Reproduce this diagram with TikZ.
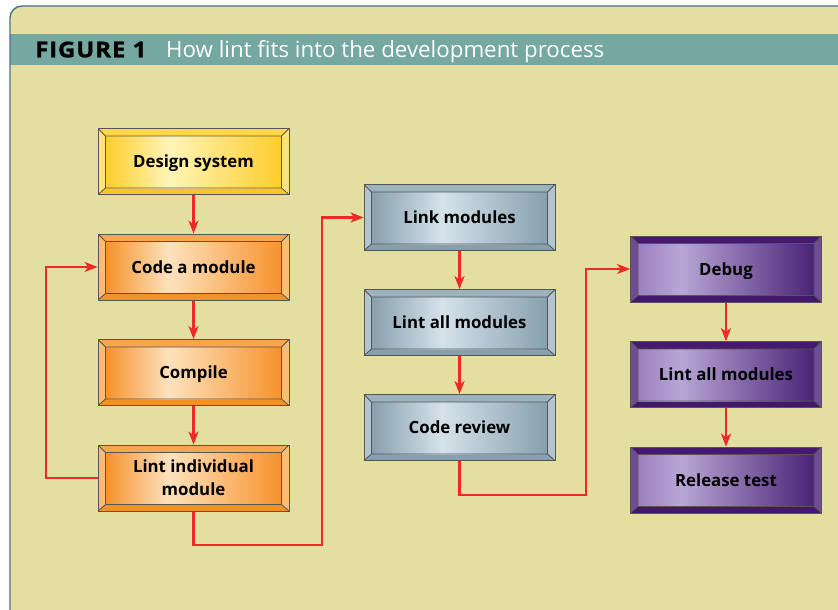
\documentclass[tikz,border=0pt]{standalone}
\usepackage{fontspec}
\setmainfont{Open Sans}
\usetikzlibrary{arrows.meta,calc}

% frame and band colours
\definecolor{pagebg}{HTML}{E3DFA0}
\definecolor{bandc}{HTML}{74A8A0}
\definecolor{framec}{HTML}{4E6E8E}
\definecolor{edgec}{HTML}{555555}
\definecolor{flowc}{HTML}{EE2A24}

% yellow box
\definecolor{yA}{HTML}{FFCD2C}\definecolor{yB}{HTML}{FFF5B8}
\definecolor{yTop}{HTML}{FFD64C}\definecolor{yBot}{HTML}{FCC724}\definecolor{ySide}{HTML}{FFE27C}
% orange boxes
\definecolor{oA}{HTML}{F6922D}\definecolor{oB}{HTML}{FDE2BD}
\definecolor{oTop}{HTML}{F8A64E}\definecolor{oBot}{HTML}{F39224}\definecolor{oSide}{HTML}{FBBC76}
% grey-blue boxes
\definecolor{gA}{HTML}{87A0AD}\definecolor{gB}{HTML}{D5E2EA}
\definecolor{gTop}{HTML}{9CB2BD}\definecolor{gBot}{HTML}{88A0AD}\definecolor{gSide}{HTML}{B2C4CD}
% purple boxes
\definecolor{pL}{HTML}{9A81BE}\definecolor{pB}{HTML}{B9A6D5}\definecolor{pR}{HTML}{4A2376}
\definecolor{pTop}{HTML}{46196F}\definecolor{pBot}{HTML}{43176B}\definecolor{pSide}{HTML}{6E4D96}

% face shadings (the 25bp--75bp band is mapped onto the face)
\pgfdeclarehorizontalshading{yface}{100bp}{color(0bp)=(yA); color(25bp)=(yA); color(43bp)=(yB); color(75bp)=(yA); color(100bp)=(yA)}
\pgfdeclarehorizontalshading{oface}{100bp}{color(0bp)=(oA); color(25bp)=(oA); color(43bp)=(oB); color(75bp)=(oA); color(100bp)=(oA)}
\pgfdeclarehorizontalshading{gface}{100bp}{color(0bp)=(gA); color(25bp)=(gA); color(45bp)=(gB); color(75bp)=(gA); color(100bp)=(gA)}
\pgfdeclarehorizontalshading{pface}{100bp}{color(0bp)=(pL); color(25bp)=(pL); color(37bp)=(pB); color(75bp)=(pR); color(100bp)=(pR)}

\pgfdeclarelayer{wires}
\pgfsetlayers{wires,main}

\tikzset{
  bevelbox/.style n args={4}{
    rectangle, minimum width=191pt, minimum height=66pt, inner sep=0pt,
    align=center, font=\fontsize{16.8}{22.3}\selectfont\bfseries, text=black,
    text height=12pt, text depth=0pt,
    draw=edgec, line width=0.8pt,
    path picture={
      \path (path picture bounding box.north west) coordinate (o1)
            (path picture bounding box.north east) coordinate (o2)
            (path picture bounding box.south east) coordinate (o3)
            (path picture bounding box.south west) coordinate (o4);
      \path ([shift={(7.5pt,-7.5pt)}]o1) coordinate (i1)
            ([shift={(-7.5pt,-7.5pt)}]o2) coordinate (i2)
            ([shift={(-7.5pt,6.5pt)}]o3) coordinate (i3)
            ([shift={(7.5pt,6.5pt)}]o4) coordinate (i4);
      \fill[#3] (o1) rectangle (o3);
      \fill[#1] (o1) -- (o2) -- (i2) -- (i1) -- cycle;
      \fill[#2] (o4) -- (o3) -- (i3) -- (i4) -- cycle;
      \shade[shading=#4] (i1) rectangle (i3);
      \draw[edgec, line width=0.8pt] (i1) rectangle (i3)
            (o1) -- (i1) (o2) -- (i2) (o3) -- (i3) (o4) -- (i4);
    }},
  twoline/.style={text height=34.3pt, text depth=0pt},
  yellowbox/.style={bevelbox={yTop}{yBot}{ySide}{yface}},
  orangebox/.style={bevelbox={oTop}{oBot}{oSide}{oface}},
  greybox/.style={bevelbox={gTop}{gBot}{gSide}{gface}},
  purplebox/.style={bevelbox={pTop}{pBot}{pSide}{pface}},
  flow/.style={draw=flowc, line width=2.1pt,
    -{Stealth[length=13pt,width=10pt,inset=3.5pt]}},
}

\begin{document}
\begin{tikzpicture}[x=1pt,y=-1pt]
  \useasboundingbox (0,0) rectangle (838,610);
  \begin{pgfonlayer}{wires}
    \begin{scope}
      \clip (0,0) rectangle (838,610);
      \fill[white] (0,0) rectangle (838,610);
      % panel with heading band
      \fill[pagebg, rounded corners=12pt] (10,6) rectangle (860,640);
      \fill[bandc] (10,34) rectangle (838,65.5);
      \draw[framec, line width=1.4pt, rounded corners=12pt] (10,6) rectangle (860,640);
    \end{scope}
  \end{pgfonlayer}

  \node[anchor=base west, inner sep=0pt, text=black,
        font=\fontsize{21.8}{24}\selectfont\bfseries\addfontfeatures{LetterSpace=4,FakeStretch=1.1,FakeBold=1}]
    (figlabel) at (35,57.3) {FIGURE\,\,1};
  \node[anchor=base west, inner sep=0pt, text=white,
        font=\fontsize{22.3}{26}\selectfont]
    (figtitle) at (166,57.3) {How lint fits into the development process};

  % first column
  \node[yellowbox] (design)  at (193.5,161.5) {Design system};
  \node[orangebox] (code)    at (193.5,267)   {Code a module};
  \node[orangebox] (compile) at (193.5,372.5) {Compile};
  \node[orangebox, twoline] (lint1) at (193.5,478) {Lint individual\\module};

  % second column
  \node[greybox] (link)    at (459.5,217.5) {Link modules};
  \node[greybox] (lint2)   at (459.5,322.5) {Lint all modules};
  \node[greybox] (review)  at (459.5,427.5) {Code review};

  % third column
  \node[purplebox] (debug)   at (726,269)   {Debug};
  \node[purplebox] (lint3)   at (726,374.5) {Lint all modules};
  \node[purplebox] (release) at (726,480)   {Release test};

  % routing points of the return and hand-over lines
  \coordinate (loopa) at (46,478);
  \coordinate (joinb) at (322,545);
  \coordinate (joinc) at (586,495);

  \begin{pgfonlayer}{wires}
    \draw[flow] (design) -- (code);
    \draw[flow] (code) -- (compile);
    \draw[flow] (compile) -- (lint1);
    \draw[flow] (lint1.west) -- (loopa) |- (code.west);
    \draw[flow] (lint1.south) |- (joinb) |- (link.west);

    \draw[flow] (link) -- (lint2);
    \draw[flow] (lint2) -- (review);
    \draw[flow] (review.south) |- (joinc) |- (debug.west);

    \draw[flow] (debug) -- (lint3);
    \draw[flow] (lint3) -- (release);
  \end{pgfonlayer}
\end{tikzpicture}
\end{document}
